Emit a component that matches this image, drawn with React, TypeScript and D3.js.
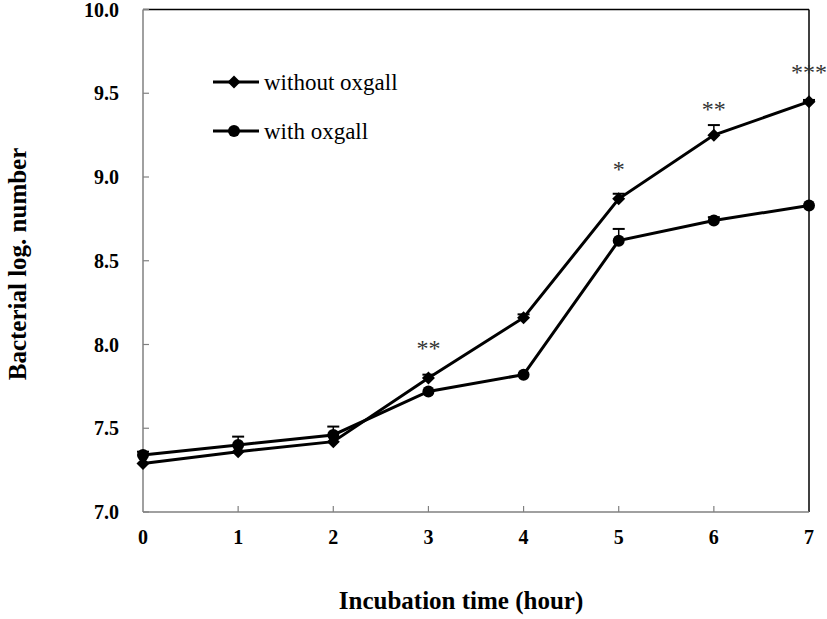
import React from "react";
import * as d3 from "d3";

const hours = [0, 1, 2, 3, 4, 5, 6, 7];
const withoutOxgall = [7.29, 7.36, 7.42, 7.80, 8.16, 8.87, 9.25, 9.45];
const withoutErr = [0.0, 0.0, 0.0, 0.02, 0.02, 0.03, 0.06, 0.01];
const withOxgall = [7.34, 7.40, 7.46, 7.72, 7.82, 8.62, 8.74, 8.83];
const withErr = [0.02, 0.05, 0.05, 0.0, 0.0, 0.07, 0.02, 0.0];
const stars = [
  { hour: 3, label: "**", value: 7.93 },
  { hour: 5, label: "*", value: 9.0 },
  { hour: 6, label: "**", value: 9.36 },
  { hour: 7, label: "***", value: 9.58 },
];
const yTicks = [7.0, 7.5, 8.0, 8.5, 9.0, 9.5, 10.0];

const W = 827, H = 619;
const L = 143, R = 809, T = 9.5, B = 512;

export default function App() {
  const x = d3.scaleLinear().domain([0, 7]).range([L, R]);
  const y = d3.scaleLinear().domain([7, 10]).range([B, T]);
  const line = d3.line<number>().x((_, i) => x(hours[i])).y((d) => y(d));
  const serif = "'Liberation Serif', 'Times New Roman', serif";
  const diamond = (cx: number, cy: number, s = 6.5) =>
    `M${cx},${cy - s}L${cx + s},${cy}L${cx},${cy + s}L${cx - s},${cy}Z`;

  const errBars = (vals: number[], errs: number[]) =>
    vals.map((v, i) =>
      errs[i] > 0.005 ? (
        <g key={i}>
          <line x1={x(hours[i])} x2={x(hours[i])} y1={y(v)} y2={y(v + errs[i])} stroke="#000" strokeWidth={1.5} />
          <line x1={x(hours[i]) - 6} x2={x(hours[i]) + 6} y1={y(v + errs[i])} y2={y(v + errs[i])} stroke="#000" strokeWidth={2} />
        </g>
      ) : null
    );

  return (
    <svg width={W} height={H} style={{ position: "absolute", left: 0, top: 0, background: "#fff" }}>
      <line x1={L} x2={R} y1={T} y2={T} stroke="#000" strokeWidth={1.5} />
      <line x1={R} x2={R} y1={T} y2={B} stroke="#000" strokeWidth={1.5} />
      <line x1={L} x2={L} y1={T} y2={B} stroke="#808080" strokeWidth={1.5} />
      <line x1={L} x2={R} y1={B} y2={B} stroke="#808080" strokeWidth={1.5} />
      {yTicks.map((t) => (
        <g key={t}>
          <line x1={L} x2={L + 6} y1={y(t)} y2={y(t)} stroke="#808080" strokeWidth={1.2} />
          <text x={L - 24} y={y(t)} dy="0.35em" textAnchor="end" fontFamily={serif} fontWeight="bold" fontSize={20}>
            {t.toFixed(1)}
          </text>
        </g>
      ))}
      {hours.map((h) => (
        <g key={h}>
          {h > 0 && h < 7 && <line x1={x(h)} x2={x(h)} y1={B} y2={B - 6} stroke="#808080" strokeWidth={1.2} />}
          <text x={x(h)} y={B + 32} textAnchor="middle" fontFamily={serif} fontWeight="bold" fontSize={20}>
            {h}
          </text>
        </g>
      ))}
      {errBars(withoutOxgall, withoutErr)}
      {errBars(withOxgall, withErr)}
      <path d={line(withOxgall) || ""} fill="none" stroke="#000" strokeWidth={3} />
      <path d={line(withoutOxgall) || ""} fill="none" stroke="#000" strokeWidth={3} />
      {withOxgall.map((v, i) => (
        <circle key={i} cx={x(hours[i])} cy={y(v)} r={6} fill="#000" />
      ))}
      {withoutOxgall.map((v, i) => (
        <path key={i} d={diamond(x(hours[i]), y(v))} fill="#000" />
      ))}
      {stars.map((s) => (
        <text key={s.hour} x={x(s.hour)} y={y(s.value)} textAnchor="middle" fontFamily={serif} fontSize={24} fill="#333">
          {s.label}
        </text>
      ))}
      <line x1={213} x2={259} y1={82} y2={82} stroke="#000" strokeWidth={3} />
      <path d={diamond(234, 82)} fill="#000" />
      <text x={264} y={82} dy="0.35em" fontFamily={serif} fontSize={23}>without oxgall</text>
      <line x1={213} x2={259} y1={131} y2={131} stroke="#000" strokeWidth={3} />
      <circle cx={234} cy={131} r={6} fill="#000" />
      <text x={264} y={131} dy="0.35em" fontFamily={serif} fontSize={23}>with oxgall</text>
      <text x={461} y={600} dy="0.35em" textAnchor="middle" fontFamily={serif} fontWeight="bold" fontSize={25}>
        Incubation time (hour)
      </text>
      <text transform="translate(17,264) rotate(-90)" dy="0.35em" textAnchor="middle" fontFamily={serif} fontWeight="bold" fontSize={25}>
        Bacterial log. number
      </text>
    </svg>
  );
}
